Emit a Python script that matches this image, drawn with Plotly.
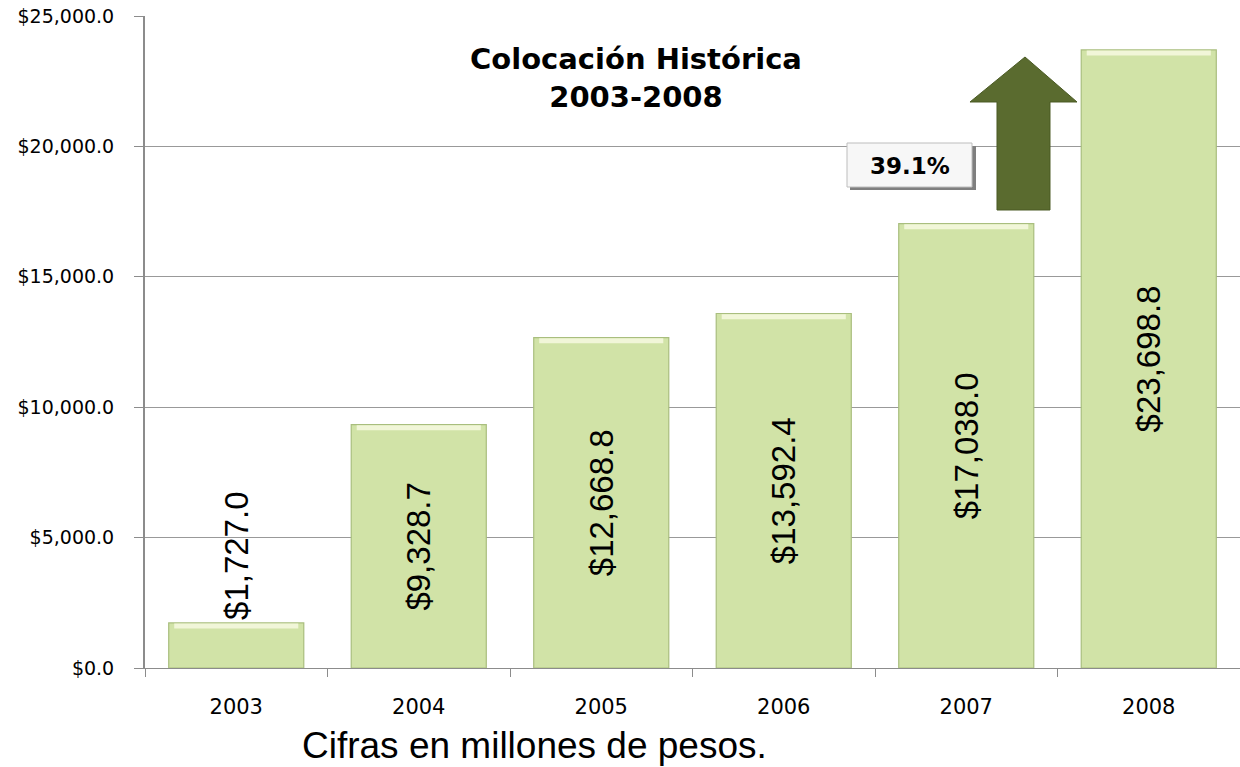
import plotly.graph_objects as go

years = ["2003", "2004", "2005", "2006", "2007", "2008"]
colocacion = [1727.0, 9328.7, 12668.8, 13592.4, 17038.0, 23698.8]
label_positions = ["outside", "inside", "inside", "inside", "inside", "inside"]
y_ticks = [0, 5000, 10000, 15000, 20000, 25000]
growth_label = "39.1%"
title_text = "Colocación Histórica<br>2003-2008"
note_text = "Cifras en millones de pesos."

W, H = 1240, 767
ML, MR, MT, MB = 145, 0, 16, 99
PW, PH = W - ML - MR, H - MT - MB
BARGAP = 0.26


def px(x):
    return (x - ML) / PW


def py(y):
    return (H - MB - y) / PH


fig = go.Figure()
fig.add_trace(go.Bar(
    x=years,
    y=colocacion,
    marker=dict(color="#D1E3A7", line=dict(color="#A9BE7E", width=1.2)),
    texttemplate="$%{y:,.1f}",
    textposition=label_positions,
    insidetextanchor="middle",
    textangle=-90,
    constraintext="none",
    textfont=dict(family="Arial, Liberation Sans", size=33, color="black"),
    cliponaxis=False,
    hoverinfo="skip",
))

shapes = []
# bevel highlight along each bar top, derived from the bar values
half = (1 - BARGAP) / 2
for i, v in enumerate(colocacion):
    shapes.append(dict(type="line", xref="x", yref="y",
                       x0=i - half + 0.03, x1=i + half - 0.03, y0=v - 120, y1=v - 120,
                       line=dict(color="#F1F6D8", width=5), layer="above"))
# growth box shadow + box
shapes.append(dict(type="rect", xref="paper", yref="paper",
                   x0=px(850), x1=px(976), y0=py(190), y1=py(146),
                   fillcolor="#7F7F7F", line=dict(width=0), layer="above"))
shapes.append(dict(type="rect", xref="paper", yref="paper",
                   x0=px(847), x1=px(972), y0=py(187), y1=py(143),
                   fillcolor="#F7F7F7", line=dict(color="#BDBDBD", width=1), layer="above"))
# arrow
pts = [(1025, 57), (1077, 102), (1050, 102), (1050, 210), (997, 210), (997, 102), (970, 102)]
path = "M " + " L ".join(f"{px(a):.5f},{py(b):.5f}" for a, b in pts) + " Z"
shapes.append(dict(type="path", xref="paper", yref="paper", path=path,
                   fillcolor="#5A6B2F", line=dict(color="#4A5A24", width=1), layer="above"))

annotations = [
    dict(text=title_text, xref="paper", yref="paper", x=px(636), y=py(78),
         xanchor="center", yanchor="middle", showarrow=False,
         font=dict(family="DejaVu Sans", size=29, color="black", weight="bold")),
    dict(text=growth_label, xref="paper", yref="paper", x=px(910), y=py(166),
         xanchor="center", yanchor="middle", showarrow=False,
         font=dict(family="DejaVu Sans", size=23, color="black", weight="bold")),
    dict(text=note_text, xref="paper", yref="paper", x=px(534), y=py(745),
         xanchor="center", yanchor="middle", showarrow=False,
         font=dict(family="Arial, Liberation Sans", size=37, color="black")),
]

fig.update_layout(
    width=W, height=H,
    margin=dict(l=ML, r=MR, t=MT, b=MB, pad=0),
    paper_bgcolor="white", plot_bgcolor="white",
    bargap=BARGAP,
    showlegend=False,
    shapes=shapes,
    annotations=annotations,
    font=dict(family="DejaVu Sans", color="black"),
)
fig.update_xaxes(
    type="category",
    showline=True, linecolor="#8C8C8C", linewidth=1,
    ticks="outside", tickson="boundaries", ticklen=8, tickcolor="#8C8C8C",
    tickfont=dict(family="DejaVu Sans", size=21, color="black"),
    ticklabelstandoff=20,
    showgrid=False,
)
fig.update_yaxes(
    range=[0, 25000],
    tickvals=y_ticks,
    tickformat="$,.1f",
    showline=True, linecolor="#8C8C8C", linewidth=2,
    ticks="outside", ticklen=9, tickcolor="#8C8C8C",
    tickfont=dict(family="DejaVu Sans", size=19, color="black"),
    ticklabelstandoff=16,
    showgrid=True, gridcolor="#999999", gridwidth=1,
    zeroline=False,
)

fig.write_html("out.html", config={"displayModeBar": False},
               post_script="document.body.style.margin='0';")
